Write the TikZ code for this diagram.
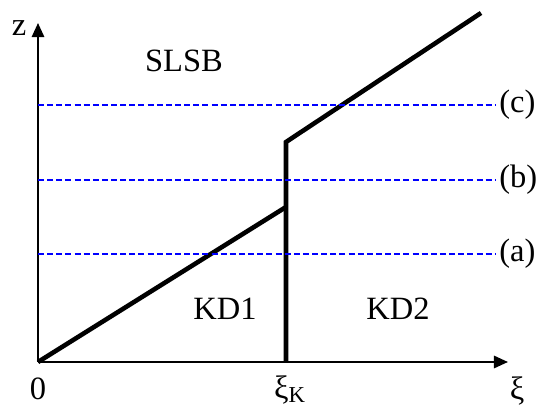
\documentclass[tikz,border=0pt]{standalone}
\usepackage{fontspec}
\setmainfont{Liberation Serif}
\usetikzlibrary{arrows.meta}
\tikzset{
  axis/.style={line width=1.2pt,-{Triangle[length=8pt,width=7pt]}},
  bound/.style={line width=2.6pt,line join=miter},
  level/.style={blue,line width=1.5pt,dash pattern=on 3.4pt off 1.8pt},
  lbl/.style={inner sep=0pt,font=\fontsize{18.5}{22}\selectfont}
}
\begin{document}
\begin{tikzpicture}[x=0.02cm,y=0.02cm]
  \useasboundingbox (-38,-47) rectangle (506,362);
  %Truc toa do
  \coordinate (O) at (0,0);
  \coordinate (xend) at (470,0);
  \coordinate (zend) at (0,339);
  \draw[axis] (O)--(xend);
  \draw[axis] (O)--(zend);
  \node[lbl,anchor=base] (zlbl) at (-19,326) {z};
  \node[lbl,anchor=base] (olbl) at (0,-37) {0};
  \node[lbl,anchor=base] (xklbl) at (252,-36) {ξ\textsubscript{K}};
  \node[lbl,anchor=base] (xilbl) at (479,-37) {ξ};
  %Duong bien
  \coordinate (P1) at (248,155);
  \coordinate (P2) at (248,0);
  \coordinate (P3) at (248,220);
  \coordinate (P4) at (443,349);
  \draw[bound] (O)--(P1);
  \draw[bound] (P2)--(P3)--(P4);
  %Duong ngang
  \foreach \h/\t/\y in {a/(a)/108, b/(b)/182, c/(c)/257}{
    \coordinate (L\h) at (0,\y);
    \coordinate (R\h) at (457,\y);
    \draw[level] (L\h)--(R\h);
    \node[lbl,anchor=west] (lab\h) at (461,\y) {\t};
  }
  %Vung
  \node[lbl] (slsb) at (146,301) {SLSB};
  \node[lbl] (kd1) at (187,53) {KD1};
  \node[lbl] (kd2) at (360,53) {KD2};
\end{tikzpicture}
\end{document}
